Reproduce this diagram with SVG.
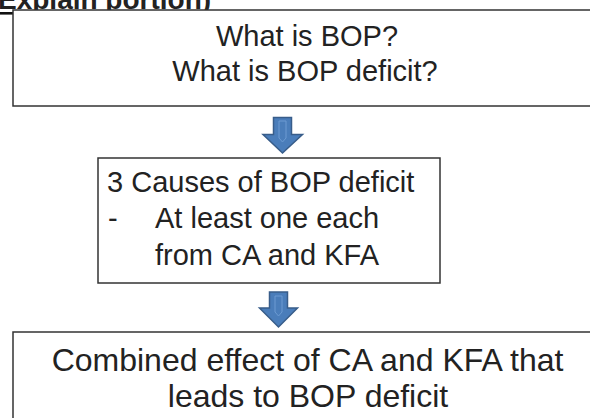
<svg xmlns="http://www.w3.org/2000/svg" width="590" height="418" viewBox="0 0 590 418">
  <style>
    .box { fill: #ffffff; stroke: #333333; stroke-width: 1.5; }
    .t { font-family: "Liberation Sans", Arial, sans-serif; fill: #222222; }
    .arrow { fill: #4A7DBA; stroke: #385D8A; stroke-width: 1.5; stroke-linejoin: miter; }
    .arrowin { fill: none; stroke: #6C9BD2; stroke-width: 1; }
  </style>
  <rect width="590" height="418" fill="#ffffff"/>
  <g id="heading">
    <text class="t" x="-2" y="9" font-size="28" font-weight="bold" fill="#111111">Explain portion)</text>
    <rect x="0" y="12" width="217" height="2.6" fill="#111111"/>
  </g>
  <g id="node-what-is-bop">
    <rect class="box" x="13" y="10" width="600" height="96"/>
    <text class="t" x="307" y="46" font-size="29" text-anchor="middle">What is BOP?</text>
    <text class="t" x="305" y="81" font-size="29" text-anchor="middle">What is BOP deficit?</text>
  </g>
  <g id="node-causes">
    <rect class="box" x="98" y="158" width="342" height="125"/>
    <text class="t" x="107" y="192" font-size="29">3 Causes of BOP deficit</text>
    <text class="t" x="108" y="228" font-size="29">-</text>
    <text class="t" x="155" y="228" font-size="29">At least one each</text>
    <text class="t" x="155" y="265" font-size="29">from CA and KFA</text>
  </g>
  <g id="node-combined">
    <rect class="box" x="13" y="332" width="600" height="100"/>
    <text class="t" x="307.5" y="371" font-size="32" text-anchor="middle">Combined effect of CA and KFA that</text>
    <text class="t" x="308" y="407" font-size="32" text-anchor="middle">leads to BOP deficit</text>
  </g>
  <g id="connectors">
    <path class="arrow" d="M273.5,117.5 H291.5 V134.5 H302.5 L282.5,153 L263,134.5 H273.5 Z"/>
    <path class="arrowin" d="M279,121 H286 V138 L282.5,142 L279,138 Z"/>
    <path class="arrow" d="M269.5,292 H287.5 V308 H297.5 L278.5,327 L259.5,308 H269.5 Z"/>
    <path class="arrowin" d="M275,296 H282 V312 L278.5,316 L275,312 Z"/>
  </g>
</svg>
